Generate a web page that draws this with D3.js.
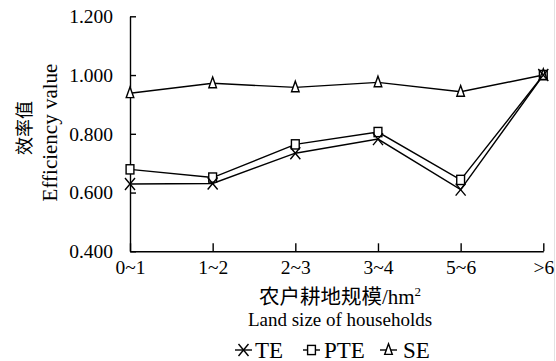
<!DOCTYPE html>
<html>
<head>
<meta charset="utf-8">
<script src="https://cdn.jsdelivr.net/npm/d3@7"></script>
<style>
  html, body { margin: 0; padding: 0; background: #fff; }
  svg { display: block; }
  text { fill: #000; }
</style>
</head>
<body>
<svg id="chart" width="556" height="361"></svg>
<script>
// Farm size classes (hm²)
const categories = ["0~1", "1~2", "2~3", "3~4", "5~6", ">6"];
// Technical efficiency
const te  = [0.629, 0.631, 0.734, 0.782, 0.610, 1.000];
// Pure technical efficiency
const pte = [0.679, 0.651, 0.764, 0.806, 0.643, 1.000];
// Scale efficiency
const se  = [0.938, 0.972, 0.958, 0.975, 0.943, 1.000];
const yTicks = [0.4, 0.6, 0.8, 1.0, 1.2];

const serif = "'Liberation Serif', 'Times New Roman', serif";
const cjk = "'Noto Sans CJK SC', sans-serif";
const sw = 1.4;

const svg = d3.select("#chart");

// faint frame edge on the right
svg.append("line")
  .attr("x1", 554.5).attr("x2", 554.5).attr("y1", 0).attr("y2", 361)
  .attr("stroke", "#e2e2e2").attr("stroke-width", 1);

const x = d3.scalePoint().domain(categories).range([130, 543.3]);
const y = d3.scaleLinear().domain([0.4, 1.2]).range([251.3, 16.3]);

// Axes: ticks point inward
const yAxis = svg.append("g")
  .attr("transform", `translate(${x.range()[0]},0)`)
  .call(d3.axisLeft(y).tickValues(yTicks).tickFormat(d3.format(".3f"))
    .tickSize(-6).tickSizeOuter(0).tickPadding(17));
const xAxis = svg.append("g")
  .attr("transform", `translate(0,${y.range()[0]})`)
  .call(d3.axisBottom(x).tickSize(-8).tickSizeOuter(0).tickPadding(9));

[yAxis, xAxis].forEach(g => {
  g.selectAll("path, line").attr("stroke", "#000").attr("stroke-width", sw);
  g.selectAll("text").attr("font-family", serif).attr("font-size", 19.5).attr("fill", "#000");
});

// Series lines
const line = d3.line().x((d, i) => x(categories[i])).y(d => y(d));
[se, pte, te].forEach(s => {
  svg.append("path").datum(s)
    .attr("d", line)
    .attr("fill", "none")
    .attr("stroke", "#000")
    .attr("stroke-width", sw);
});

// Marker shapes
const triPath = "M0,-6.2L3.8,4.4L-3.8,4.4Z";
const crossPath = "M-5,-6L5,6M5,-6L-5,6";
function square(g) {
  return g.append("rect").attr("x", -3.9).attr("y", -4.6).attr("width", 7.8).attr("height", 9.2)
    .attr("fill", "#fff").attr("stroke", "#000").attr("stroke-width", sw);
}
function triangle(g) {
  return g.append("path").attr("d", triPath)
    .attr("fill", "#fff").attr("stroke", "#000").attr("stroke-width", sw);
}
function cross(g) {
  return g.append("path").attr("d", crossPath)
    .attr("fill", "none").attr("stroke", "#000").attr("stroke-width", sw);
}

function markers(data, draw) {
  data.forEach((v, i) => {
    const g = svg.append("g").attr("transform", `translate(${x(categories[i])},${y(v)})`);
    draw(g);
  });
}
markers(pte, square);
markers(se, triangle);
markers(te, cross);

// Axis titles
svg.append("text")
  .attr("transform", "translate(31,128) rotate(-90)")
  .attr("text-anchor", "middle")
  .attr("font-family", cjk).attr("font-size", 18)
  .text("效率值");
svg.append("text")
  .attr("transform", "translate(57,132.5) rotate(-90)")
  .attr("text-anchor", "middle")
  .attr("font-family", serif).attr("font-size", 21)
  .text("Efficiency value");

const xt = svg.append("text")
  .attr("x", 340).attr("y", 304)
  .attr("text-anchor", "middle");
xt.append("tspan").attr("font-family", cjk).attr("font-size", 20.5).text("农户耕地规模");
xt.append("tspan").attr("font-family", serif).attr("font-size", 21).text("/hm");
xt.append("tspan").attr("font-family", serif).attr("font-size", 13).attr("dy", -8).text("2");

svg.append("text")
  .attr("x", 340).attr("y", 326)
  .attr("text-anchor", "middle")
  .attr("font-family", serif).attr("font-size", 19)
  .text("Land size of households");

// Legend
const legendItems = [
  { name: "TE", draw: cross, x0: 235, tx: 255 },
  { name: "PTE", draw: square, x0: 303, tx: 324 },
  { name: "SE", draw: triangle, x0: 380, tx: 403 }
];
const ly = 350;
legendItems.forEach(it => {
  svg.append("line")
    .attr("x1", it.x0).attr("x2", it.x0 + 17)
    .attr("y1", ly).attr("y2", ly)
    .attr("stroke", "#000").attr("stroke-width", sw);
  it.draw(svg.append("g").attr("transform", `translate(${it.x0 + 8.5},${ly})`));
  svg.append("text")
    .attr("x", it.tx).attr("y", ly + 7.5)
    .attr("font-family", serif).attr("font-size", 23)
    .text(it.name);
});
</script>
</body>
</html>
